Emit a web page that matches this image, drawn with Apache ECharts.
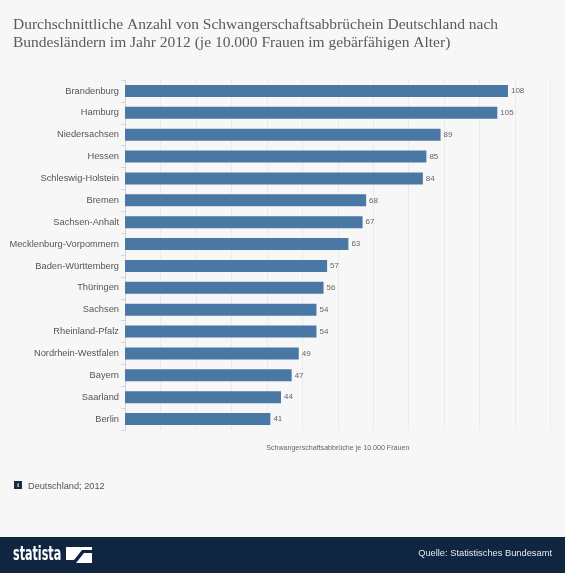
<!DOCTYPE html>
<html><head><meta charset="utf-8">
<script src="https://cdn.jsdelivr.net/npm/echarts@6/dist/echarts.min.js"></script>
<style>html,body{margin:0;padding:0;background:#f7f7f7}#c{width:565px;height:573px}</style>
</head><body><div id="c"></div>
<script>
const categories = ["Brandenburg","Hamburg","Niedersachsen","Hessen","Schleswig-Holstein","Bremen","Sachsen-Anhalt","Mecklenburg-Vorpommern","Baden-Württemberg","Thüringen","Sachsen","Rheinland-Pfalz","Nordrhein-Westfalen","Bayern","Saarland","Berlin"];
const values = [108,105,89,85,84,68,67,63,57,56,54,54,49,47,44,41];
const titleText = "Durchschnittliche Anzahl von Schwangerschaftsabbrüchein Deutschland nach\nBundesländern im Jahr 2012 (je 10.000 Frauen im gebärfähigen Alter)";
const axisName = "Schwangerschaftsabbrüche je 10.000 Frauen";
const footnote = "Deutschland; 2012";
const source = "Quelle: Statistisches Bundesamt";

const chart = echarts.init(document.getElementById('c'), null, {renderer:'canvas'});
chart.setOption({
  backgroundColor: '#f7f7f7',
  animation: false,
  title: {
    text: titleText, left: 13, top: 16, padding: 0,
    textStyle: {fontFamily: 'Liberation Serif', fontSize: 15.5, fontWeight: 'normal', color: '#5a5a5a', lineHeight: 18}
  },
  grid: {left: 125, right: 14.5, top: 80, bottom: 143, containLabel: false, outerBoundsMode: 'none'},
  xAxis: {
    type: 'value', min: 0, max: 120, interval: 10,
    axisLabel: {show: false}, axisTick: {show: false}, axisLine: {show: false},
    splitLine: {show: true, lineStyle: {color: '#ebebeb', width: 1}},
    name: axisName, nameLocation: 'middle', nameGap: 15,
    nameTextStyle: {fontSize: 7.1, color: '#666', fontFamily: 'Liberation Sans'}
  },
  yAxis: {
    type: 'category', data: categories, inverse: true,
    axisLine: {show: true, lineStyle: {color: '#d5d5d5'}},
    axisTick: {show: true, length: 4, lineStyle: {color: '#d5d5d5'}},
    axisLabel: {fontSize: 9.3, color: '#555', fontFamily: 'Liberation Sans', margin: 6}
  },
  series: [{
    type: 'bar', data: values, barWidth: 12,
    itemStyle: {color: '#4a78a5'},
    label: {show: true, position: 'right', distance: 3, fontSize: 8, color: '#666', fontFamily: 'Liberation Sans'}
  }],
  graphic: [
    {type: 'rect', shape: {x: 14, y: 481, width: 8, height: 8}, style: {fill: '#1a2b40'}},
    {type: 'text', style: {x: 18, y: 485, text: 'i', fill: '#fff', fontSize: 6, fontWeight: 'bold', align: 'center', verticalAlign: 'middle', fontFamily: 'Liberation Serif'}},
    {type: 'text', style: {x: 28, y: 486, text: footnote, fill: '#555', fontSize: 9.2, fontFamily: 'Liberation Sans', verticalAlign: 'middle'}},
    {type: 'rect', shape: {x: 0, y: 537, width: 565, height: 36}, style: {fill: '#0f2540'}},
    {type: 'text', x: 13, y: 555, scaleX: 0.62, style: {x: 0, y: 0, text: 'statista', fill: '#fff', fontSize: 20, fontWeight: 'bold', fontFamily: 'DejaVu Sans Condensed', verticalAlign: 'middle'}},
    {type: 'rect', shape: {x: 66, y: 547, width: 26, height: 16}, style: {fill: '#fff'}},
    {type: 'polygon', shape: {points: [[66,563],[66,560],[74,560],[82,550],[92,550],[92,553],[84,553],[76,563]]}, style: {fill: '#0f2540'}},
    {type: 'text', style: {x: 552, y: 553, text: source, fill: '#e6e9ee', fontSize: 9.3, fontFamily: 'Liberation Sans', align: 'right', verticalAlign: 'middle'}}
  ]
});
</script></body></html>
